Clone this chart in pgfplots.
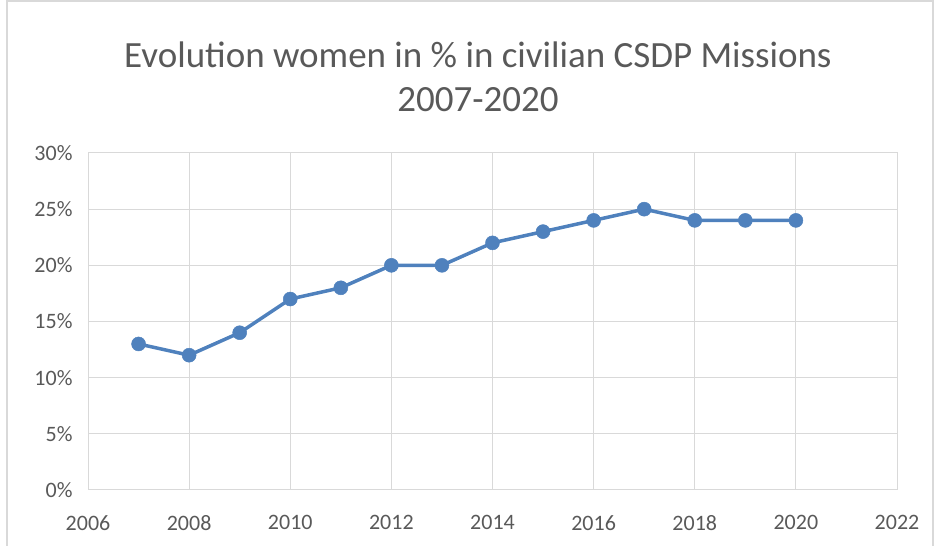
\documentclass[border=0pt]{standalone}
\usepackage{pgfplots}
\pgfplotsset{compat=1.18}
\usepackage{fontspec}
\setmainfont{Carlito}
\definecolor{gridgray}{HTML}{D9D9D9}
\definecolor{txtgray}{HTML}{595959}
\definecolor{lineblue}{HTML}{4F81BD}
\begin{document}
\begin{tikzpicture}[x=1bp,y=1bp]
\useasboundingbox (0,0) rectangle (936,546);
\draw[gridgray, line width=1.5bp] (7,-2) -- (7,545) -- (933,545) -- (933,-2);
\node[txtgray, font=\fontsize{37bp}{40bp}\selectfont] at (478,491) {Evolution women in \% in civilian CSDP Missions};
\node[txtgray, font=\fontsize{37bp}{40bp}\selectfont] at (478,446) {2007-2020};
\begin{axis}[
  at={(88bp,56bp)}, anchor=south west,
  scale only axis, width=809bp, height=337bp,
  xmin=2006, xmax=2022, ymin=0, ymax=30,
  xtick={2006,2008,...,2022}, ytick={0,5,...,30},
  grid=major, grid style={gridgray, line width=1bp},
  axis line style={gridgray, line width=1bp},
  major tick length=0pt,
  ticklabel style={txtgray, font=\fontsize{22bp}{24bp}\selectfont},
  /pgf/number format/assume math mode=true,
  /pgf/number format/1000 sep={},
  yticklabel={\pgfmathprintnumber{\tick}\%},
  yticklabel style={xshift=-12bp},
  xticklabel style={yshift=-22bp},
]
\addplot[lineblue, line width=3.5bp, mark=*, mark size=7bp, mark options={fill=lineblue, draw=lineblue, line width=0.5bp}] coordinates {
(2007,13) (2008,12) (2009,14) (2010,17) (2011,18) (2012,20) (2013,20)
(2014,22) (2015,23) (2016,24) (2017,25) (2018,24) (2019,24) (2020,24)};
\end{axis}
\end{tikzpicture}
\end{document}
